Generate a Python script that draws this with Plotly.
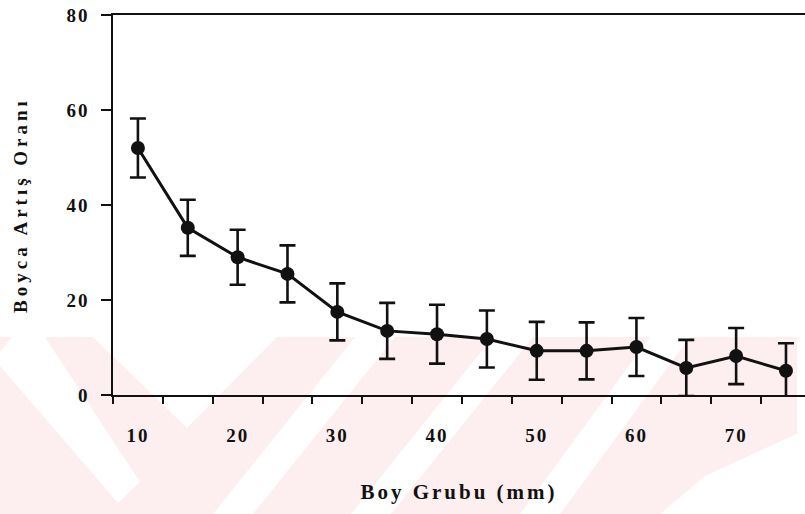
import plotly.graph_objects as go

# Length-group growth data
boy_grubu = [10, 15, 20, 25, 30, 35, 40, 45, 50, 55, 60, 65, 70, 75]
artis_orani = [52.0, 35.2, 29.0, 25.5, 17.5, 13.5, 12.8, 11.8, 9.3, 9.3, 10.1, 5.7, 8.2, 5.1]
std_sapma = [6.2, 5.9, 5.8, 6.0, 6.0, 5.9, 6.2, 6.0, 6.1, 6.0, 6.1, 5.9, 5.9, 5.8]

x_label_vals = [10, 20, 30, 40, 50, 60, 70]
y_tick_vals = [0, 20, 40, 60, 80]

W, H = 805, 514
ML, MR, MT, MB = 113, 0, 15, 119
INK = "#111111"
PINK = "#fdeef0"
FONT = "Liberation Serif"


def px_to_paper(pts):
    """Convert figure-pixel points to plot-paper coordinates and build an SVG path."""
    pw, ph = W - ML - MR, H - MT - MB
    conv = [((x - ML) / pw, 1 - (y - MT) / ph) for x, y in pts]
    return "M " + " L ".join(f"{a:.4f},{b:.4f}" for a, b in conv) + " Z"


# Light background stamp in the lower part of the page
stamp_pink = [[(0, 337), (797, 337), (797, 514), (0, 514)]]
stamp_white = [
    [(12, 337), (45, 337), (140, 482), (118, 503), (0, 366), (0, 352)],
    [(93, 337), (277, 337), (187, 428)],
    [(355, 337), (395, 337), (253, 514), (213, 514)],
    [(493, 337), (533, 337), (391, 514), (351, 514)],
    [(650, 337), (690, 337), (560, 514), (520, 514)],
    [(660, 514), (705, 476), (805, 430), (805, 514)],
    [(797, 337), (805, 337), (805, 514), (797, 514)],
]

shapes = []
for poly in stamp_pink:
    shapes.append(dict(type="path", xref="paper", yref="paper", path=px_to_paper(poly),
                       fillcolor=PINK, line=dict(width=0), layer="below"))
for poly in stamp_white:
    shapes.append(dict(type="path", xref="paper", yref="paper", path=px_to_paper(poly),
                       fillcolor="white", line=dict(width=0), layer="below"))

fig = go.Figure()
fig.add_trace(go.Scatter(
    x=boy_grubu,
    y=artis_orani,
    mode="lines+markers",
    line=dict(color=INK, width=3),
    marker=dict(color=INK, size=14),
    error_y=dict(type="data", array=std_sapma, visible=True,
                 color=INK, thickness=2.6, width=8),
    cliponaxis=False,
    showlegend=False,
))

x_end = 7.5 + (W - ML - MR) / 9.97

fig.update_layout(
    width=W,
    height=H,
    margin=dict(l=ML, r=MR, t=MT, b=MB, autoexpand=False),
    paper_bgcolor="white",
    plot_bgcolor="rgba(0,0,0,0)",
    shapes=shapes,
    font=dict(family=FONT, color=INK),
    xaxis=dict(
        range=[7.5, x_end],
        showgrid=False,
        zeroline=False,
        showline=True,
        linecolor=INK,
        linewidth=1.5,
        mirror=True,
        tickmode="array",
        tickvals=x_label_vals,
        ticktext=[str(v) for v in x_label_vals],
        ticks="",
        ticklabelstandoff=22,
        tickfont=dict(family=FONT, size=19, color=INK, weight="bold"),
        minor=dict(ticks="outside", tick0=7.5, dtick=5, ticklen=7,
                   tickwidth=1.5, tickcolor=INK, showgrid=False),
        title=dict(text="Boy Grubu (mm)", standoff=40,
                   font=dict(family=FONT, size=21, color=INK, weight="bold")),
        automargin=False,
    ),
    yaxis=dict(
        range=[0, 80],
        showgrid=False,
        zeroline=False,
        showline=True,
        linecolor=INK,
        linewidth=1.5,
        tickmode="array",
        tickvals=y_tick_vals,
        ticks="outside",
        ticklen=10,
        tickwidth=1.5,
        tickcolor=INK,
        ticklabelstandoff=8,
        tickfont=dict(family=FONT, size=19, color=INK, weight="bold"),
        title=dict(text="Boyca Artış Oranı", standoff=38,
                   font=dict(family=FONT, size=19, color=INK, weight="bold")),
        automargin=False,
    ),
)

spacing_js = """
var gd = document.getElementById('{plot_id}');
function spaceText() {
  gd.querySelectorAll('.xtitle').forEach(function (t) { t.style.letterSpacing = '3px'; });
  gd.querySelectorAll('.ytitle').forEach(function (t) { t.style.letterSpacing = '4px'; });
  gd.querySelectorAll('.xtick text, .ytick text').forEach(function (t) { t.style.letterSpacing = '2px'; });
}
spaceText();
gd.on('plotly_afterplot', spaceText);
"""

fig.write_html("out.html", post_script=spacing_js)
